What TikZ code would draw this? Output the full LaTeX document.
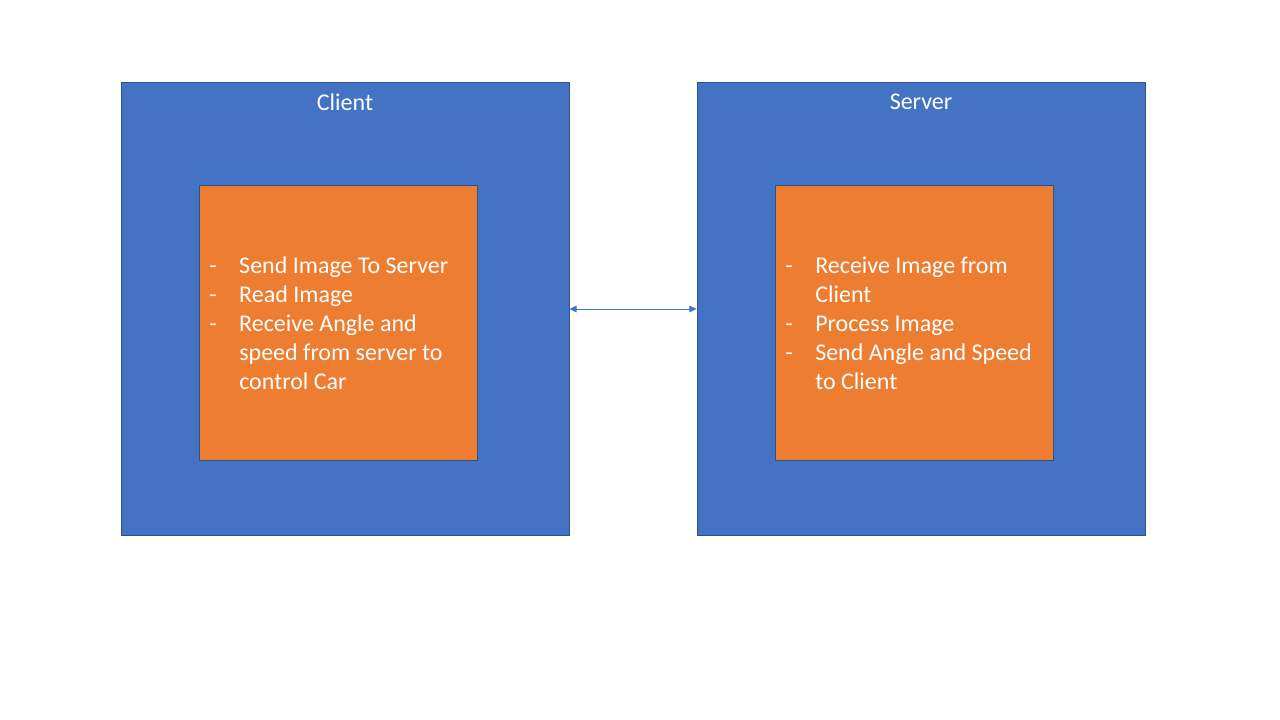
\documentclass[tikz,border=0pt]{standalone}
\usepackage{fontspec}
\setmainfont{Carlito}
\usepackage{array}
\usetikzlibrary{arrows.meta}
\definecolor{tierblue}{HTML}{4472C4}
\definecolor{tierline}{HTML}{2F528F}
\definecolor{taskorange}{HTML}{ED7D31}
\newenvironment{tasks}{\begin{tabular}{@{}p{22.5pt}@{}>{\raggedright\arraybackslash}p{171pt}@{}}}{\end{tabular}}
\tikzset{
  tier/.style={draw=tierline, fill=tierblue, line width=0.6pt, minimum width=336pt, minimum height=339.75pt, inner sep=0pt},
  taskbox/.style={draw=tierline, fill=taskorange, line width=0.5pt, minimum width=208.5pt, minimum height=206.25pt, inner sep=0pt},
  tasklist/.style={text=white, inner sep=0pt, anchor=west, font=\fontsize{18pt}{21.75pt}\selectfont},
  tiername/.style={text=white, font=\fontsize{18pt}{21.75pt}\selectfont}
}
\begin{document}
\begin{tikzpicture}[x=0.75pt, y=-0.75pt]
\path[fill=white] (0,0) rectangle (1280,720);
% client side
\node[tier] (client) at (345,308.5) {};
\node[tiername] (clientname) at (345,102) {Client};
\node[taskbox] (clienttasks) at (338,322.5) {};
\node[tasklist] (clientlist) at (209,326) {\begin{tasks}
- & Send Image To Server\\
- & Read Image\\
- & Receive Angle and speed from server to control Car
\end{tasks}};
% server side
\node[tier] (server) at (921,308.5) {};
\node[tiername] (servername) at (921,102) {Server};
\node[taskbox] (servertasks) at (914,322.5) {};
\node[tasklist] (serverlist) at (785,326) {\begin{tasks}
- & Receive Image from Client\\
- & Process Image\\
- & Send Angle and Speed to Client
\end{tasks}};
% link
\draw[tierblue, line width=0.75pt, {Triangle[length=5.5pt,width=5pt]}-{Triangle[length=5.5pt,width=5pt]}] (client.east |- 0,309) -- (server.west |- 0,309);
\end{tikzpicture}
\end{document}
